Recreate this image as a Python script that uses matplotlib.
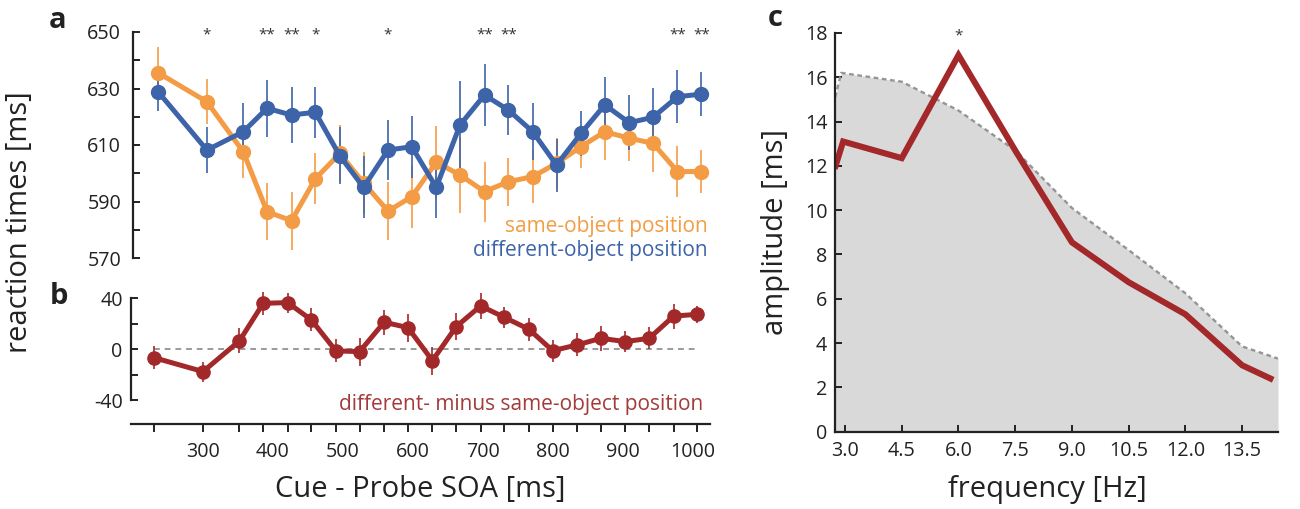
import numpy as np
import matplotlib
matplotlib.use("Agg")
import matplotlib.pyplot as plt

plt.rcParams['font.family'] = ['Open Sans', 'DejaVu Sans']

# ---- data -------------------------------------------------------------
soa = [230, 300, 352, 386, 421, 455, 490, 524, 559, 593, 628,
       662, 697, 731, 766, 800, 835, 869, 904, 938, 973, 1007]

rt_same = [635.6, 625.3, 607.6, 586.4, 583.2, 598.0, 607.0, 596.6, 586.6, 591.7, 603.9,
           599.4, 593.5, 597.0, 598.8, 603.5, 609.4, 614.7, 612.4, 610.6, 600.6, 600.6]
err_same = [9, 8, 9.4, 10, 10.3, 9, 10, 11, 10.3, 11, 13,
            13.5, 10.6, 8.5, 9.4, 9, 7.4, 10, 8, 10, 9, 7.6]

rt_diff_obj = [628.9, 608.2, 614.7, 623.0, 620.6, 621.6, 606.2, 595.0, 608.2, 609.4, 595.0,
               617.1, 627.7, 622.4, 614.7, 602.9, 614.1, 624.2, 617.9, 619.8, 627.1, 628.0]
err_diff_obj = [7, 8, 10, 10, 10, 9, 10, 11, 10.6, 11, 11,
                15.6, 11, 9, 10, 9.4, 8, 10, 9.7, 10.3, 9.4, 7.7]

delta = [-6.6, -17.5, 6.5, 36.0, 36.6, 23.0, -1.3, -1.8, 21.2, 17.0, -8.9,
         17.7, 34.0, 25.0, 15.7, -1.1, 3.4, 8.6, 6.0, 8.6, 26.0, 27.4]
err_delta = [9, 7.8, 9.8, 9, 7.8, 9, 9, 11, 9.8, 11, 11,
             10.5, 10.5, 8.5, 9, 8.5, 9, 9.8, 8.5, 8.5, 9.8, 6.5]

star_idx = [1, 3, 4, 5, 8, 12, 13, 20, 21]
star_txt = ['*', '**', '**', '*', '*', '**', '**', '**', '**']

soa_labels = [300, 400, 500, 600, 700, 800, 900, 1000]

freq = [2.75, 2.95, 4.5, 6.0, 7.5, 9.0, 10.5, 12.0, 13.5, 14.25]
amp = [12.0, 13.1, 12.35, 17.0, 12.7, 8.55, 6.75, 5.3, 3.0, 2.4]

freq_thr = [2.74, 2.9, 4.5, 6.0, 7.5, 9.0, 10.5, 12.0, 13.5, 14.45]
amp_thr = [15.1, 16.2, 15.8, 14.5, 12.7, 10.1, 8.2, 6.25, 3.85, 3.3]

freq_ticks = [3.0, 4.5, 6.0, 7.5, 9.0, 10.5, 12.0, 13.5]

# ---- style ------------------------------------------------------------
orange = '#f39c45'
blue = '#3d64a9'
red = '#a3282a'
ink = '#222222'
W, H = 1300, 509

fig = plt.figure(figsize=(13, 5.09), dpi=100)


def px_axes(left, top, right, bottom):
    return fig.add_axes([left / W, 1 - bottom / H, (right - left) / W, (bottom - top) / H])


def style(ax):
    for s in ['top', 'right']:
        ax.spines[s].set_visible(False)
    for s in ['left', 'bottom']:
        ax.spines[s].set_linewidth(1.6)
        ax.spines[s].set_color(ink)
    ax.tick_params(colors=ink, labelsize=14.2, width=1.4, length=5)


# ---- panel a ----------------------------------------------------------
ax_a = px_axes(133, 20.7, 710, 269.3)
style(ax_a)
ax_a.errorbar(soa, rt_same, yerr=err_same, color=orange, lw=3.6, marker='o', ms=10,
              elinewidth=1.2, ecolor=orange, capsize=0)
ax_a.errorbar(soa, rt_diff_obj, yerr=err_diff_obj, color=blue, lw=3.6, marker='o', ms=10,
              elinewidth=1.2, ecolor=blue, capsize=0)
ax_a.set_xlim(194.3, 1019.5)
ax_a.set_ylim(566, 654)
ax_a.spines['bottom'].set_visible(False)
ax_a.spines['left'].set_bounds(570, 650)
ax_a.set_xticks([])
ax_a.set_yticks(range(570, 651, 10))
ax_a.set_yticklabels([str(v) if (v - 570) % 20 == 0 else '' for v in range(570, 651, 10)])
ax_a.tick_params(axis='y', direction='in', pad=8.5)
for i, t in zip(star_idx, star_txt):
    ax_a.text(soa[i], 647.6, t, ha='center', va='baseline', fontsize=11, color='#333333')
ax_a.text(1016, 581.3, 'same-object position', color=orange, fontsize=15,
          ha='right', va='center')
ax_a.text(1016, 572.8, 'different-object position', color=blue, fontsize=15,
          ha='right', va='center')

# ---- panel b ----------------------------------------------------------
ax_b = px_axes(131, 285.5, 710, 424)
style(ax_b)
ax_b.plot([soa[0], soa[-1]], [0, 0], ls=(0, (3, 2.5)), color='#9a9a9a', lw=1.4)
ax_b.errorbar(soa, delta, yerr=err_delta, color=red, lw=3.6, marker='o', ms=9.5,
              elinewidth=1.2, ecolor=red, capsize=0)
ax_b.set_xlim(197, 1025)
ax_b.set_ylim(-58.6, 50)
ax_b.spines['left'].set_bounds(-40, 40)
ax_b.set_yticks([-40, -20, 0, 20, 40])
ax_b.set_yticklabels(['-40', '', '0', '', '40'])
ax_b.tick_params(axis='y', direction='in', pad=6)
ax_b.xaxis.remove_overlapping_locs = False
ax_b.set_xticks(soa)
ax_b.set_xticklabels([])
ax_b.tick_params(axis='x', direction='out', length=6)
ax_b.set_xticks(soa_labels, minor=True)
ax_b.set_xticklabels([str(v) for v in soa_labels], minor=True)
ax_b.tick_params(axis='x', which='minor', length=0, pad=13, labelsize=14.2, colors=ink)
ax_b.text(1016, -43, 'different- minus same-object position', color='#a33b3b',
          fontsize=15, ha='right', va='center')

# ---- panel c ----------------------------------------------------------
ax_c = px_axes(835, 19.7, 1278, 431.7)
style(ax_c)
ax_c.fill_between(freq_thr, amp_thr, 0, color='#d9d9d9', lw=0)
ax_c.plot(freq_thr, amp_thr, color='#959595', lw=1.7, ls=(0, (2, 1.5)))
ax_c.plot(freq, amp, color=red, lw=4.4, solid_joinstyle='miter')
ax_c.set_xlim(2.735, 14.45)
ax_c.set_ylim(0, 18.6)
ax_c.spines['left'].set_bounds(0, 18)
ax_c.set_yticks(range(0, 19, 2))
ax_c.set_xticks(freq_ticks)
ax_c.set_xticklabels(['%.1f' % f for f in freq_ticks])
ax_c.tick_params(axis='both', direction='in')
ax_c.tick_params(axis='x', pad=7)
ax_c.tick_params(axis='y', pad=5.5)
ax_c.text(6.0, 17.7, '*', ha='center', va='baseline', fontsize=11, color='#333333')

# ---- labels -----------------------------------------------------------
fig.text(20 / W, 1 - 222 / H, 'reaction times [ms]', rotation=90, ha='center',
         va='center', fontsize=21, color=ink)
fig.text(420 / W, 1 - 490 / H, 'Cue - Probe SOA [ms]', ha='center', va='center',
         fontsize=21, color=ink)
fig.text(775 / W, 1 - 232 / H, 'amplitude [ms]', rotation=90, ha='center',
         va='center', fontsize=21, color=ink)
fig.text(1047 / W, 1 - 490 / H, 'frequency [Hz]', ha='center', va='center',
         fontsize=21, color=ink)
for lab, x, y in [('a', 58, 20), ('b', 59, 296), ('c', 775, 19)]:
    fig.text(x / W, 1 - y / H, lab, ha='center', va='center', fontsize=21,
             fontweight='bold', color=ink)

fig.savefig('out.png', dpi=100)
